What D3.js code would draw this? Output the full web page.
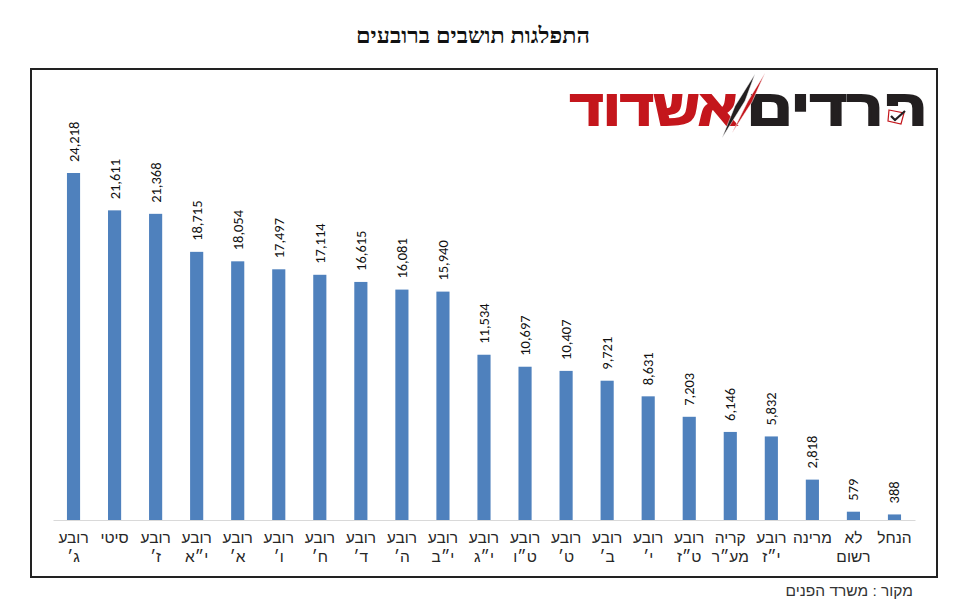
<!DOCTYPE html>
<html lang="he">
<head>
<meta charset="utf-8">
<script src="https://cdn.jsdelivr.net/npm/d3@7"></script>
<style>
  html, body { margin: 0; padding: 0; background: #fff; }
  svg { display: block; }
  .cat text { font-family: "Liberation Sans", Arial, sans-serif; font-size: 15.5px; fill: #262626; }
  .val { font-family: Carlito, Lato, "Open Sans", sans-serif; font-size: 14.5px; fill: #111; }
</style>
</head>
<body>
<div id="chart"></div>
<script>
// top of file: values
var categories = ["רובע ג׳", "סיטי", "רובע ז׳", "רובע י״א", "רובע א׳", "רובע ו׳", "רובע ח׳",
  "רובע ד׳", "רובע ה׳", "רובע י״ב", "רובע י״ג", "רובע ט״ו", "רובע ט׳", "רובע ב׳", "רובע י׳",
  "רובע ט״ז", "קריה מע״ר", "רובע י״ז", "מרינה", "לא רשום", "הנחל"];
var residents = [24218, 21611, 21368, 18715, 18054, 17497, 17114, 16615, 16081, 15940, 11534,
  10697, 10407, 9721, 8631, 7203, 6146, 5832, 2818, 579, 388];
var titleText = "התפלגות תושבים ברובעים";
var sourceText = "מקור : משרד הפנים";

var w = 959, h = 609;
var margin = {top: 173, right: 44, bottom: 89, left: 53};

var svg = d3.select("#chart").append("svg")
  .attr("width", w)
  .attr("height", h);

// frame
svg.append("rect")
  .attr("x", 31).attr("y", 69)
  .attr("width", 906).attr("height", 508)
  .attr("fill", "none")
  .attr("stroke", "#222")
  .attr("stroke-width", 2);

var x = d3.scaleBand()
  .domain(categories)
  .range([margin.left, w - margin.right])
  .paddingInner(0.68)
  .paddingOuter(0.34);

var y = d3.scaleLinear()
  .domain([0, d3.max(residents)])
  .range([h - margin.bottom, margin.top]);

var rows = categories.map(function(c, i) { return {cat: c, val: residents[i]}; });

svg.selectAll("rect.bar")
  .data(rows)
  .enter()
  .append("rect")
    .attr("class", "bar")
    .attr("x", function(d) { return x(d.cat); })
    .attr("y", function(d) { return y(d.val); })
    .attr("width", x.bandwidth())
    .attr("height", function(d) { return y(0) - y(d.val); })
    .attr("fill", "#4f81bd");

// x axis, labels wrapped on two lines
var axis = svg.append("g")
  .attr("class", "cat")
  .attr("transform", "translate(0," + y(0) + ")")
  .call(d3.axisBottom(x).tickSize(0).tickPadding(12));
axis.select(".domain").attr("stroke", "#d9d9d9").attr("stroke-width", 1);
axis.selectAll("text").each(function(d) {
  var t = d3.select(this), parts = d.split(" ");
  t.text(null).attr("direction", "rtl");
  parts.forEach(function(p, i) {
    t.append("tspan")
      .attr("x", 0)
      .attr("dy", i ? "1.24em" : "0.71em")
      .attr("direction", "rtl")
      .text(p);
  });
});

// value labels
svg.selectAll("text.val")
  .data(rows)
  .enter()
  .append("text")
    .attr("class", "val")
    .attr("text-anchor", "start")
    .attr("transform", function(d) {
      return "translate(" + (x(d.cat) + x.bandwidth() / 2 + 5) + "," + (y(d.val) - 11) + ")rotate(-90)";
    })
    .text(function(d) { return d3.format(",")(d.val); });

// title
svg.append("text")
  .attr("x", 473).attr("y", 43)
  .attr("text-anchor", "middle")
  .attr("direction", "rtl")
  .attr("textLength", 234)
  .attr("lengthAdjust", "spacingAndGlyphs")
  .style("font-family", "'Liberation Serif', serif")
  .style("font-weight", "bold")
  .style("font-size", "22px")
  .attr("fill", "#111")
  .text(titleText);

// source
svg.append("text")
  .attr("x", 913).attr("y", 596)
  .attr("text-anchor", "start")
  .attr("direction", "rtl")
  .style("font-family", "'Liberation Sans', Arial, sans-serif")
  .style("font-size", "15.5px")
  .attr("fill", "#333")
  .text(sourceText);

// logo
var logo = svg.append("g").attr("class", "logo");
logo.append("text")
  .attr("x", 927).attr("y", 125)
  .attr("direction", "rtl")
  .attr("textLength", 180)
  .attr("lengthAdjust", "spacingAndGlyphs")
  .style("font-family", "'Liberation Sans', Arial, sans-serif")
  .style("font-weight", "bold")
  .style("font-size", "49px")
  .attr("fill", "#231f20")
  .attr("stroke", "#231f20")
  .attr("stroke-width", 2.2)
  .text("חרדים");
logo.append("text")
  .attr("x", 737).attr("y", 125)
  .attr("direction", "rtl")
  .attr("textLength", 167)
  .attr("lengthAdjust", "spacingAndGlyphs")
  .style("font-family", "'Liberation Sans', Arial, sans-serif")
  .style("font-weight", "bold")
  .style("font-size", "49px")
  .attr("fill", "#c4161c")
  .attr("stroke", "#c4161c")
  .attr("stroke-width", 2.2)
  .text("אשדוד");
logo.append("path").attr("d", "M755,74L745,101L722,138L735,106Z").attr("fill", "#231f20").attr("stroke", "#fff").attr("stroke-width", 0.5);
logo.append("path").attr("d", "M765,73L752,102L732,133L748,101Z").attr("fill", "#c4161c").attr("stroke", "#fff").attr("stroke-width", 0.5);
logo.append("rect").attr("x", 885).attr("y", 106).attr("width", 21).attr("height", 22).attr("fill", "#fff");
logo.append("path").attr("d", "M889,110L904,113L901,124L888,121Z").attr("fill", "none").attr("stroke", "#c4161c").attr("stroke-width", 1.2);
logo.append("path").attr("d", "M891,116L895,120L905,111").attr("fill", "none").attr("stroke", "#231f20").attr("stroke-width", 2.2);
</script>
</body>
</html>
